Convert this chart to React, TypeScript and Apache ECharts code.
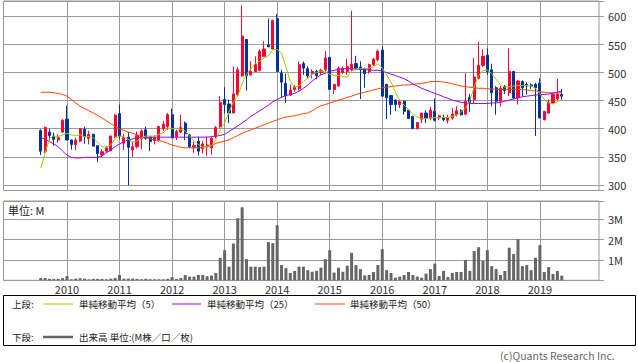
import React, { useEffect, useRef } from 'react';
import * as echarts from 'echarts';

// axis spans 2008-11 .. 2020-02 (136 monthly slots); data runs 2009-07 .. 2019-06
const AXIS_START_YEAR = 2008;
const AXIS_START_MONTH = 11;
const AXIS_MONTH_COUNT = 136;
const DATA_START_INDEX = 8;

const yearTicks = ['2010', '2011', '2012', '2013', '2014', '2015', '2016', '2017', '2018', '2019'];

const opens = [
  397, 360, 394, 387, 380, 394, 417, 380, 372, 378,
  399, 383, 390, 370, 354, 360, 361, 386, 427, 374,
  385, 362, 368, 382, 398, 385, 379, 380, 400, 404,
  425, 386, 394, 410, 389, 367, 378, 365, 368, 366,
  386, 404, 452, 444, 428, 461, 494, 559, 496, 502,
  504, 529, 549, 542, 596, 499, 481, 460, 470, 471,
  516, 507, 498, 502, 500, 505, 527, 470, 476, 500,
  502, 505, 516, 510, 507, 502, 514, 523, 540, 479,
  459, 451, 443, 449, 433, 422, 400, 417, 428, 419,
  431, 419, 419, 415, 419, 425, 432, 426, 456, 452,
  490, 513, 531, 505, 473, 449, 475, 464, 502, 455,
  484, 479, 478, 479, 481, 416, 428, 446, 453, 461,
];
const highs = [
  399, 404, 400, 393, 390, 417, 441, 381, 384, 401,
  404, 396, 391, 370, 364, 369, 388, 426, 443, 391,
  394, 377, 395, 399, 404, 386, 388, 405, 414, 428,
  436, 398, 425, 413, 391, 377, 386, 378, 386, 386,
  405, 458, 474, 452, 511, 510, 620, 559, 520, 529,
  541, 556, 596, 594, 604, 505, 498, 479, 478, 520,
  520, 511, 506, 505, 507, 538, 528, 479, 511, 511,
  524, 610, 530, 520, 509, 516, 526, 541, 547, 480,
  460, 452, 452, 450, 434, 423, 411, 428, 433, 439,
  454, 425, 425, 425, 437, 440, 435, 499, 462, 526,
  555, 541, 543, 516, 476, 476, 478, 543, 503, 487,
  486, 483, 481, 482, 490, 431, 452, 461, 489, 471,
];
const lows = [
  353, 357, 379, 370, 375, 393, 380, 363, 362, 376,
  373, 372, 369, 341, 349, 357, 360, 383, 381, 362,
  299, 350, 365, 363, 380, 360, 372, 377, 396, 398,
  383, 380, 392, 380, 365, 357, 352, 356, 352, 354,
  383, 401, 428, 410, 428, 458, 493, 468, 495, 501,
  502, 528, 545, 541, 502, 455, 446, 458, 466, 468,
  496, 490, 490, 488, 496, 502, 469, 462, 475, 498,
  496, 503, 504, 453, 473, 498, 512, 520, 458, 417,
  425, 432, 437, 425, 418, 400, 400, 410, 410, 415,
  413, 416, 413, 410, 416, 422, 423, 424, 430, 445,
  488, 510, 496, 440, 425, 440, 462, 458, 452, 443,
  458, 461, 471, 387, 419, 415, 427, 445, 451, 452,
];
const closes = [
  360, 402, 388, 381, 384, 415, 380, 372, 380, 400,
  386, 390, 369, 356, 359, 366, 387, 424, 387, 384,
  367, 368, 388, 396, 383, 377, 384, 404, 408, 425,
  384, 395, 402, 391, 368, 370, 360, 373, 371, 383,
  402, 447, 443, 428, 462, 505, 565, 495, 502, 514,
  538, 542, 546, 593, 502, 483, 459, 469, 474, 514,
  508, 494, 502, 495, 504, 526, 470, 479, 508, 508,
  511, 515, 508, 505, 498, 514, 524, 538, 458, 455,
  443, 443, 449, 431, 418, 400, 411, 428, 418, 433,
  415, 423, 416, 419, 426, 432, 425, 449, 447, 492,
  513, 529, 502, 464, 449, 472, 468, 502, 455, 485,
  473, 476, 476, 473, 419, 431, 447, 461, 462, 458,
];
// volume, millions
const volumes = [
  0.11, 0.11, 0.07, 0.07, 0.07, 0.11, 0.21, 0.05, 0.08, 0.1,
  0.08, 0.05, 0.07, 0.07, 0.07, 0.05, 0.08, 0.11, 0.26, 0.08,
  0.08, 0.08, 0.07, 0.05, 0.07, 0.05, 0.05, 0.05, 0.05, 0.07,
  0.16, 0.07, 0.11, 0.26, 0.18, 0.18, 0.26, 0.26, 0.2, 0.23,
  0.36, 1.11, 1.48, 0.67, 1.81, 3.05, 3.59, 1.04, 0.67, 0.67,
  0.65, 0.67, 1.88, 1.83, 2.71, 0.75, 0.6, 0.36, 0.46, 0.67,
  0.67, 0.5, 0.42, 0.46, 0.62, 1.04, 1.48, 0.38, 0.62, 0.42,
  0.72, 1.35, 0.75, 0.55, 0.24, 0.26, 0.41, 0.75, 1.53, 0.5,
  0.36, 0.13, 0.18, 0.26, 0.41, 0.26, 0.18, 0.13, 0.33, 0.55,
  0.82, 0.21, 0.46, 0.16, 0.36, 0.41, 0.41, 1.0, 0.46, 1.44,
  1.63, 0.95, 1.48, 0.7, 0.55, 0.26, 0.46, 1.6, 1.29, 2.02,
  0.7, 0.75, 0.5, 1.11, 1.73, 0.41, 0.65, 0.31, 0.46, 0.23,
];
const ma5 = [
  330, 356, 383, 387, 386, 389, 392, 389, 388, 389,
  386, 386, 384, 376, 368, 367, 371, 382, 387, 386,
  381, 377, 378, 384, 387, 387, 387, 390, 393, 401,
  400, 401, 399, 396, 387, 378, 372, 367, 368, 370,
  380, 398, 410, 430, 448, 458, 480, 497, 507, 516,
  520, 526, 530, 541, 541, 535, 510, 484, 474, 477,
  484, 490, 497, 500, 503, 501, 497, 495, 495, 493,
  492, 503, 506, 507, 507, 508, 510, 516, 508, 496,
  483, 465, 450, 442, 434, 426, 421, 418, 418, 419,
  420, 420, 420, 420, 422, 424, 430, 436, 450, 474,
  495, 503, 505, 498, 488, 478, 474, 475, 476, 477,
  477, 477, 476, 472, 463, 452, 446, 444, 448, 452,
];
const ma25 = [
  385, 381, 377, 373, 368, 360, 353, 349, 348, 348,
  349, 349, 349, 349, 352, 357, 362, 368, 373, 377,
  380, 382, 384, 385, 385, 385, 385, 385, 385, 385,
  385, 385, 385, 385, 385, 385, 385, 385, 385, 386,
  387, 388, 390, 395, 400, 405, 410, 416, 422, 427,
  432, 437, 442, 448, 452, 456, 459, 461, 463, 467,
  472, 478, 485, 491, 496, 499, 502, 504, 506, 507,
  507, 507, 506, 506, 505, 505, 504, 504, 503, 500,
  497, 495, 492, 489, 485, 480, 476, 472, 469, 466,
  463, 460, 457, 454, 451, 449, 447, 446, 445, 445,
  445, 445, 445, 446, 446, 447, 449, 451, 453, 455,
  457, 458, 459, 460, 461, 461, 462, 463, 465, 467,
];
const ma50 = [
  465, 465, 465, 464, 463, 461, 458, 452, 446, 440,
  436, 432, 428, 424, 419, 414, 409, 404, 400, 397,
  394, 392, 389, 386, 384, 382, 380, 379, 377, 374,
  371, 369, 367, 366, 366, 366, 366, 367, 368, 370,
  374, 376, 378, 380, 384, 388, 392, 395, 398, 401,
  404, 407, 410, 413, 416, 419, 421, 422, 423, 425,
  427, 428, 432, 437, 441, 443, 446, 448, 451, 453,
  456, 458, 461, 463, 465, 467, 469, 471, 473, 474,
  475, 476, 477, 478, 478, 479, 480, 481, 482, 484,
  484, 484, 483, 482, 480, 478, 476, 475, 474, 473,
  472, 472, 471, 471, 470, 470, 470, 470, 470, 470,
  470, 469, 468, 467, 466, 465, 464, 464, 464, 464,
];

const legendLabels = ['単純移動平均（5）', '単純移動平均（25）', '単純移動平均（50）'];
const volumeLegendLabel = '出来高 単位:(M株／口／枚)';

const RED = '#ff0033';
const BLUE = '#003399';
const GREEN = '#99cc00';
const PURPLE = '#9900ff';
const ORANGE = '#ff4400';
const GRID = '#999999';
const FONT = '"Noto Sans CJK JP", "Noto Sans", sans-serif';

function monthCategories(): string[] {
  const out: string[] = [];
  for (let k = 0; k < AXIS_MONTH_COUNT; k++) {
    const m0 = AXIS_START_MONTH - 1 + k;
    const y = AXIS_START_YEAR + Math.floor(m0 / 12);
    const m = (m0 % 12) + 1;
    out.push(`${y}-${String(m).padStart(2, '0')}`);
  }
  return out;
}

function pad(arr: any[], filler: any): any[] {
  const out: any[] = [];
  for (let k = 0; k < AXIS_MONTH_COUNT; k++) out.push(filler);
  arr.forEach((v, i) => {
    out[DATA_START_INDEX + i] = v;
  });
  return out;
}

const isYearStart = (_index: number, value: string) => {
  const s = String(value);
  return s.endsWith('-01') && yearTicks.indexOf(s.slice(0, 4)) >= 0;
};

export default function App() {
  const ref = useRef<HTMLDivElement>(null);

  useEffect(() => {
    if (!ref.current) return;
    const chart = echarts.init(ref.current, undefined, { renderer: 'svg' });
    const cats = monthCategories();
    const candles = pad(
      opens.map((o, i) => [o, closes[i], lows[i], highs[i]]),
      ['-', '-', '-', '-']
    );

    const xBase = {
      type: 'category',
      data: cats,
      boundaryGap: true,
      axisLine: { show: false },
      axisTick: { show: false },
      splitLine: {
        show: true,
        interval: isYearStart,
        alignWithLabel: true,
        lineStyle: { color: GRID, width: 1 },
      },
    };

    const legendY1 = 304;
    const legendY2 = 337;
    const textStyle = (text: string, size = 9.5, color = '#222') => ({
      text,
      fill: color,
      font: `${size}px ${FONT}`,
      verticalAlign: 'middle',
      textVerticalAlign: 'middle',
    });

    const option: any = {
      animation: false,
      backgroundColor: '#ffffff',
      grid: [
        {
          left: 3.5, right: 39, top: 1, height: 189.5,
          show: true, borderColor: GRID, borderWidth: 1, backgroundColor: 'transparent',
          outerBoundsMode: 'none', containLabel: false,
        },
        {
          left: 3.5, right: 39, top: 201, height: 79.3,
          show: true, borderColor: GRID, borderWidth: 1, backgroundColor: 'transparent',
          outerBoundsMode: 'none', containLabel: false,
        },
      ],
      xAxis: [
        { ...xBase, gridIndex: 0, axisLabel: { show: false } },
        {
          ...xBase,
          gridIndex: 1,
          axisLabel: {
            show: true,
            interval: isYearStart,
            formatter: (v: string) => v.slice(0, 4),
            color: '#333',
            fontSize: 11,
            fontFamily: FONT,
            margin: 3,
          },
        },
      ],
      yAxis: [
        {
          type: 'value',
          gridIndex: 0,
          position: 'right',
          min: 290,
          max: 627.5,
          splitNumber: 7,
          axisLine: { show: false },
          axisTick: { show: true, length: 5, lineStyle: { color: GRID } },
          axisLabel: {
            color: '#333',
            fontSize: 11,
            fontFamily: FONT,
            margin: 9,
            formatter: (v: number) => (v >= 300 && v <= 600 && Math.round(v) % 50 === 0 ? String(v) : ''),
          },
          splitLine: { show: true, lineStyle: { color: GRID, width: 1 } },
        },
        {
          type: 'value',
          gridIndex: 1,
          position: 'right',
          min: 0,
          max: 3.9,
          interval: 1,
          axisLine: { show: false },
          axisTick: { show: true, length: 5, lineStyle: { color: GRID } },
          axisLabel: {
            color: '#333',
            fontSize: 11,
            fontFamily: FONT,
            margin: 9,
            formatter: (v: number) => (v >= 1 && Math.abs(v - Math.round(v)) < 1e-6 ? `${Math.round(v)}M` : ''),
          },
          splitLine: { show: true, lineStyle: { color: GRID, width: 1 } },
        },
      ],
      series: [
        {
          type: 'candlestick',
          xAxisIndex: 0,
          yAxisIndex: 0,
          data: candles,
          barWidth: 2.6,
          itemStyle: {
            color: RED,
            color0: BLUE,
            borderColor: RED,
            borderColor0: BLUE,
            borderWidth: 1,
          },
        },
        {
          type: 'line', xAxisIndex: 0, yAxisIndex: 0, data: pad(ma50, '-'),
          symbol: 'none', lineStyle: { color: ORANGE, width: 1 }, z: 3,
        },
        {
          type: 'line', xAxisIndex: 0, yAxisIndex: 0, data: pad(ma25, '-'),
          symbol: 'none', lineStyle: { color: PURPLE, width: 1 }, z: 3,
        },
        {
          type: 'line', xAxisIndex: 0, yAxisIndex: 0, data: pad(ma5, '-'),
          symbol: 'none', lineStyle: { color: GREEN, width: 1 }, z: 3,
        },
        {
          type: 'bar', xAxisIndex: 1, yAxisIndex: 1, data: pad(volumes, '-'),
          barWidth: 3, itemStyle: { color: '#666666' },
        },
      ],
      graphic: [
        { type: 'text', x: 8, y: 210, style: textStyle('単位: M', 11, '#222') },
        {
          type: 'rect',
          shape: { x: 3.5, y: 295.5, width: 632, height: 50 },
          style: { fill: '#ffffff', stroke: '#000000', lineWidth: 1 },
          z: 0,
        },
        { type: 'text', x: 12, y: legendY1, style: textStyle('上段:') },
        { type: 'line', shape: { x1: 43, y1: legendY1, x2: 73, y2: legendY1 }, style: { stroke: GREEN, lineWidth: 1 } },
        { type: 'text', x: 79, y: legendY1, style: textStyle(legendLabels[0]) },
        { type: 'line', shape: { x1: 172, y1: legendY1, x2: 201, y2: legendY1 }, style: { stroke: PURPLE, lineWidth: 1 } },
        { type: 'text', x: 207, y: legendY1, style: textStyle(legendLabels[1]) },
        { type: 'line', shape: { x1: 315, y1: legendY1, x2: 345, y2: legendY1 }, style: { stroke: ORANGE, lineWidth: 1 } },
        { type: 'text', x: 350, y: legendY1, style: textStyle(legendLabels[2]) },
        { type: 'text', x: 12, y: legendY2, style: textStyle('下段:') },
        { type: 'line', shape: { x1: 43, y1: legendY2, x2: 73, y2: legendY2 }, style: { stroke: '#666666', lineWidth: 2.5 } },
        { type: 'text', x: 79, y: legendY2, style: textStyle(volumeLegendLabel) },
        { type: 'text', x: 500, y: 355, style: textStyle('(c)Quants Research Inc.', 10.5, '#666') },
      ],
    };

    chart.setOption(option);
    return () => chart.dispose();
  }, []);

  return (
    <div
      ref={ref}
      style={{ position: 'absolute', left: 0, top: 0, width: 638, height: 362, background: '#fff' }}
    />
  );
}
